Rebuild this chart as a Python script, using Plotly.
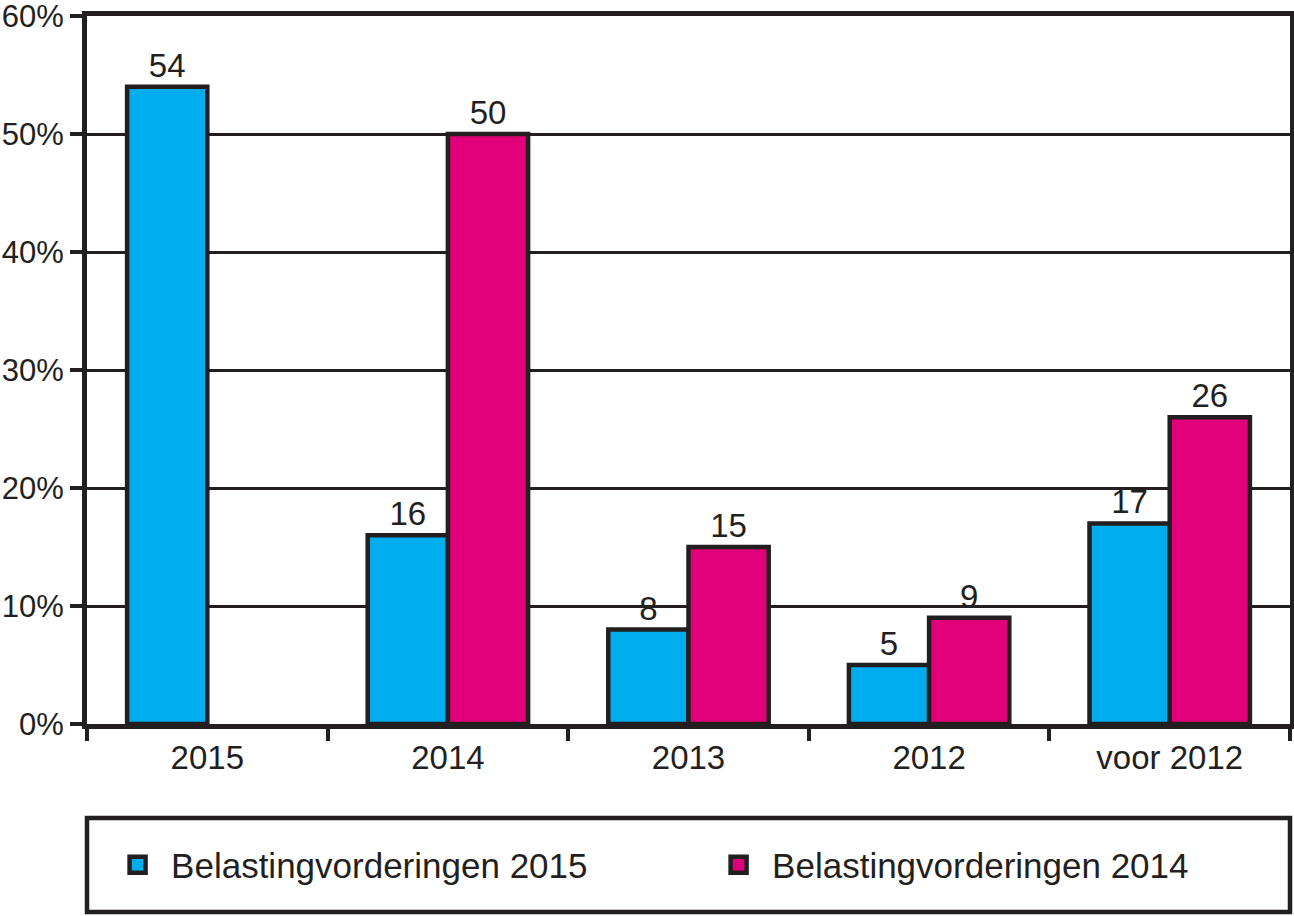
import plotly.graph_objects as go

categories = ["2015", "2014", "2013", "2012", "voor 2012"]
vorderingen_2015 = [54, 16, 8, 5, 17]
vorderingen_2014 = [None, 50, 15, 9, 26]
series_names = ["Belastingvorderingen 2015", "Belastingvorderingen 2014"]
y_ticks = [0, 10, 20, 30, 40, 50, 60]
y_tick_labels = [f"{v}%" for v in y_ticks]

DARK = "#231f20"
BLUE = "#00adef"
PINK = "#e2007a"
FONT = "Liberation Sans"
FS = 33
YFS = 31
LFS = 35

fig = go.Figure()
for vals, col, name, leg in [(vorderingen_2015, BLUE, series_names[0], "legend"),
                             (vorderingen_2014, PINK, series_names[1], "legend2")]:
    fig.add_trace(go.Bar(
        x=categories, y=vals, name=name, showlegend=False,
        marker=dict(color=col, line=dict(color=DARK, width=4.5)),
        text=[("" if v is None else str(v)) for v in vals],
        textposition="outside", cliponaxis=False,
        textfont=dict(family=FONT, size=FS, color=DARK),
    ))
    # legend proxy
    fig.add_trace(go.Scatter(
        x=[None], y=[None], mode="markers", name=name, legend=leg,
        marker=dict(symbol="square", size=25, color=col,
                    line=dict(color=DARK, width=4.5)),
    ))

legend_common = dict(orientation="h", xanchor="left", y=-0.199, yanchor="middle",
                     font=dict(family=FONT, size=LFS, color=DARK), itemwidth=57,
                     bgcolor="rgba(0,0,0,0)", borderwidth=0)

fig.update_layout(
    width=1294, height=916,
    margin=dict(l=87, r=4, t=16, b=192, autoexpand=False),
    paper_bgcolor="white", plot_bgcolor="white",
    barmode="group", bargap=1/3, bargroupgap=0,
    font=dict(family=FONT, size=FS, color=DARK),
    showlegend=True,
    legend=dict(x=0.0142, **legend_common),
    legend2=dict(x=0.5138, **legend_common),
    xaxis=dict(type="category", categoryorder="array", categoryarray=categories,
               automargin=False,
               showline=True, linecolor=DARK, linewidth=5, mirror=True,
               ticks="outside", tickson="boundaries", ticklen=12, tickwidth=4,
               tickcolor=DARK, showgrid=False,
               tickfont=dict(family=FONT, size=FS, color=DARK)),
    yaxis=dict(range=[0, 60], tickvals=y_ticks, ticktext=y_tick_labels,
               automargin=False, ticklabeloverflow="allow",
               showline=True, linecolor=DARK, linewidth=5, mirror=True,
               ticks="outside", ticklen=12, tickwidth=4, tickcolor=DARK,
               showgrid=True, gridcolor=DARK, gridwidth=3, zeroline=False,
               tickfont=dict(family=FONT, size=YFS, color=DARK)),
)

# legend frame
fig.add_shape(type="rect", xref="paper", yref="paper",
              x0=0, x1=1, y0=-0.2655, y1=-0.1328,
              line=dict(color=DARK, width=4.5), fillcolor="rgba(0,0,0,0)")

fig.write_html("out.html", config={"displayModeBar": False},
               post_script="document.body.style.margin='0';document.body.style.overflow='hidden';")
